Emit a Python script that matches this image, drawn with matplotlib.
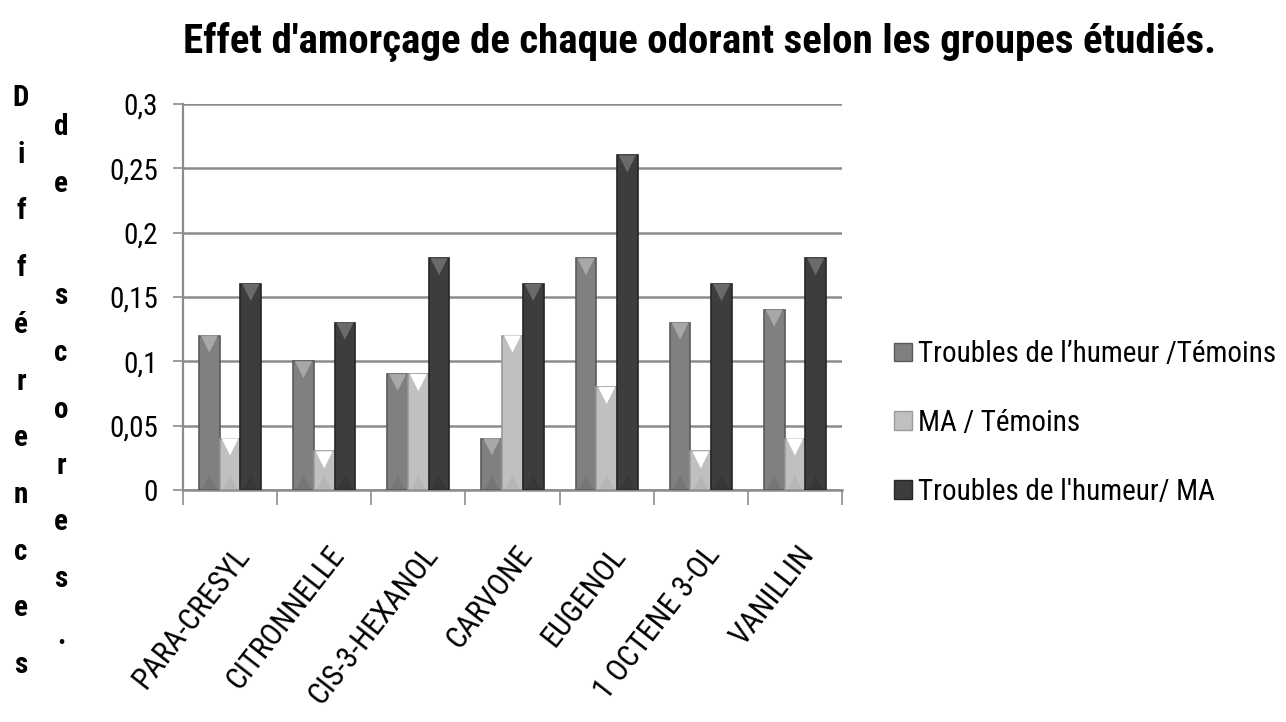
import matplotlib
matplotlib.use("Agg")
import matplotlib.pyplot as plt
import numpy as np
from matplotlib.patches import Patch

categories = ["PARA-CRESYL", "CITRONNELLE", "CIS-3-HEXANOL", "CARVONE",
              "EUGENOL", "1 OCTENE 3-OL", "VANILLIN"]
series_names = ["Troubles de l\u2019humeur /Témoins", "MA / Témoins",
                "Troubles de l'humeur/ MA"]
humeur_temoins = [0.12, 0.10, 0.09, 0.04, 0.18, 0.13, 0.14]
ma_temoins = [0.04, 0.03, 0.09, 0.12, 0.08, 0.03, 0.04]
humeur_ma = [0.16, 0.13, 0.18, 0.16, 0.26, 0.16, 0.18]
yticks = [0, 0.05, 0.1, 0.15, 0.2, 0.25, 0.3]
ytick_labels = ["0", "0,05", "0,1", "0,15", "0,2", "0,25", "0,3"]
title = "Effet d'amorçage de chaque odorant selon les groupes étudiés."
ylabel1 = "Différences"
ylabel2 = "de scores."

FONT = ["Roboto Condensed", "Liberation Sans Narrow", "Lato", "DejaVu Sans"]
plt.rcParams['font.family'] = FONT

fig = plt.figure(figsize=(12.86, 7.22), dpi=100)
ax = fig.add_axes([183/1286, 1-490/722, (842-183)/1286, (490-104)/722])

series = [humeur_temoins, ma_temoins, humeur_ma]
face = ["#808080", "#c0c0c0", "#3d3d3d"]
edge = ["#5a5a5a", "#9a9a9a", "#262626"]
tri = ["#a8a8a8", "#ffffff", "#6a6a6a"]
x = np.arange(len(categories))
w = 0.22
for i, vals in enumerate(series):
    xi = x + (i - 1) * w
    ax.bar(xi, vals, width=w, color=face[i], edgecolor=edge[i], linewidth=1.2, zorder=3)
    ax.scatter(xi, np.array(vals) - 0.0065, marker='v', s=150, color=tri[i],
               edgecolors='none', zorder=5)
    ax.scatter(xi, np.full(len(vals), 0.006), marker='^', s=110, color=edge[i],
               edgecolors='none', zorder=5, alpha=0.25)

ax.set_xlim(-0.5, len(categories) - 0.5)
ax.set_ylim(0, 0.3)
ax.set_yticks(yticks)
ax.set_yticklabels(ytick_labels, fontsize=21)
ax.yaxis.grid(True, color="#8c8c8c", linewidth=1.8, zorder=0)
ax.set_axisbelow(True)
for s in ["top", "right"]:
    ax.spines[s].set_visible(False)
ax.spines["left"].set_color("#8c8c8c")
ax.spines["left"].set_linewidth(1.6)
ax.spines["bottom"].set_color("#8c8c8c")
ax.spines["bottom"].set_linewidth(1.8)
ax.tick_params(axis='y', length=7, width=1.2, color="#8c8c8c", pad=11)

ax.set_xticks(np.arange(len(categories) + 1) - 0.5)
ax.set_xticklabels([])
ax.tick_params(axis='x', length=11, width=1.2, color="#8c8c8c")
for xc, lab in zip(x, categories):
    ax.annotate(lab, xy=(xc, 0), xycoords='data', xytext=(14, -60),
                textcoords='offset pixels', rotation=52, ha='right', va='center',
                rotation_mode='anchor', fontsize=22)

fig.text(0.544, 0.942, title, ha='center', va='center', fontsize=29.5, fontweight='bold')

start1, step = 98, 56.7
for k, ch in enumerate(ylabel1):
    fig.text(21/1286, 1 - (start1 + k * step)/722, ch, ha='center', va='center',
             fontsize=21, fontweight='bold')
start2 = 127
for k, ch in enumerate(ylabel2):
    if ch == " ":
        continue
    fig.text(61/1286, 1 - (start2 + k * 56.5)/722, ch, ha='center', va='center',
             fontsize=21, fontweight='bold')

handles = [Patch(facecolor=face[i], edgecolor=edge[i]) for i in range(3)]
leg = fig.legend(handles, series_names, loc='center left', bbox_to_anchor=(868/1286, 1-423/722),
                 frameon=False, fontsize=21, handlelength=0.6, handleheight=0.6,
                 handletextpad=0.2, labelspacing=1.4)

fig.savefig("out.png", dpi=100)
